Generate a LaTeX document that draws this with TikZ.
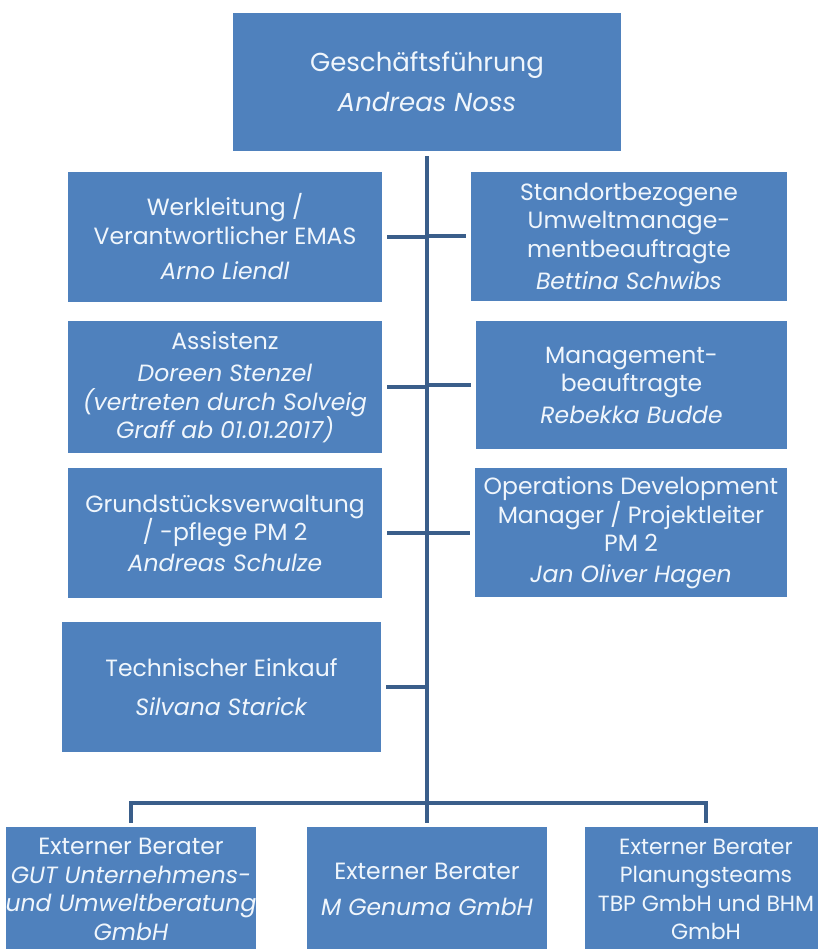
\documentclass[tikz,border=0pt]{standalone}
\usepackage{fontspec}
\setmainfont{Poppins}
\definecolor{orgblue}{RGB}{79,129,189}
\definecolor{orgline}{RGB}{58,94,138}
\definecolor{orgtext}{RGB}{240,246,252}

\begin{document}
\begin{tikzpicture}[x=1pt,y=-1pt,
  unit/.style={fill=orgblue,text=orgtext,align=center,inner sep=0pt,
    font=\fontsize{23.5}{28.5}\selectfont},
  link/.style={draw=orgline,line width=4pt}]

  \clip (0,0) rectangle (818,949);
  \fill[white] (0,0) rectangle (818,949);

  % top
  \node[unit,minimum width=388,minimum height=138,font=\fontsize{26}{30}\selectfont] (gf) at (427,82)
    {Geschäftsführung\\[10pt]\textit{Andreas Noss}};

  % left column
  \node[unit,minimum width=314,minimum height=130] (wl) at (225,237)
    {Werkleitung /\\Verantwortlicher EMAS\\[7pt]\textit{Arno Liendl}};
  \node[unit,minimum width=314,minimum height=132] (as) at (225,387)
    {Assistenz\\[4pt]\textit{Doreen Stenzel}\\\textit{(vertreten durch Solveig}\\\textit{Graff ab 01.01.2017)}};
  \node[unit,minimum width=314,minimum height=130] (gs) at (225,533)
    {Grundstücksverwaltung\\/ -pflege PM 2\\[2pt]\textit{Andreas Schulze}};
  \node[unit,minimum width=319,minimum height=130] (te) at (221.5,687)
    {Technischer Einkauf\\[11pt]\textit{Silvana Starick}};

  % right column
  \node[unit,minimum width=316,minimum height=129] (su) at (629,236.5)
    {Standortbezogene\\Umweltmanage-\\mentbeauftragte\\[4pt]\textit{Bettina Schwibs}};
  \node[unit,minimum width=311,minimum height=128] (mb) at (631.5,385)
    {Management-\\beauftragte\\[3pt]\textit{Rebekka Budde}};
  \node[unit,minimum width=312,minimum height=129] (od) at (631,532.5)
    {Operations Development\\Manager / Projektleiter\\PM 2\\[2pt]\textit{Jan Oliver Hagen}};

  % external consultants
  \node[unit,minimum width=242,minimum height=125] (eb1) at (131,889.5)
    {Externer Berater\\\textit{GUT Unternehmens-}\\\textit{und Umweltberatung}\\\textit{GmbH}};
  \node[unit,minimum width=240,minimum height=125] (eb2) at (427,889.5)
    {Externer Berater\\[8pt]\textit{M Genuma GmbH}};
  \node[unit,minimum width=242,minimum height=125,font=\fontsize{22}{28.5}\selectfont] (eb3) at (706,889.5)
    {Externer Berater\\Planungsteams\\TBP GmbH und BHM\\GmbH};

  % lines
  \draw[link,shorten <=5pt,shorten >=4pt] (gf) -- (eb2);
  \foreach \n in {wl,as,gs,te,su,mb,od}
    \draw[link,shorten <=5pt] (\n) -- (\n -| gf);
  \coordinate (bus) at (427,803);
  \draw[link,shorten <=4pt,shorten >=4pt] (eb1.north) |- (bus) -| (eb3.north);
\end{tikzpicture}
\end{document}
